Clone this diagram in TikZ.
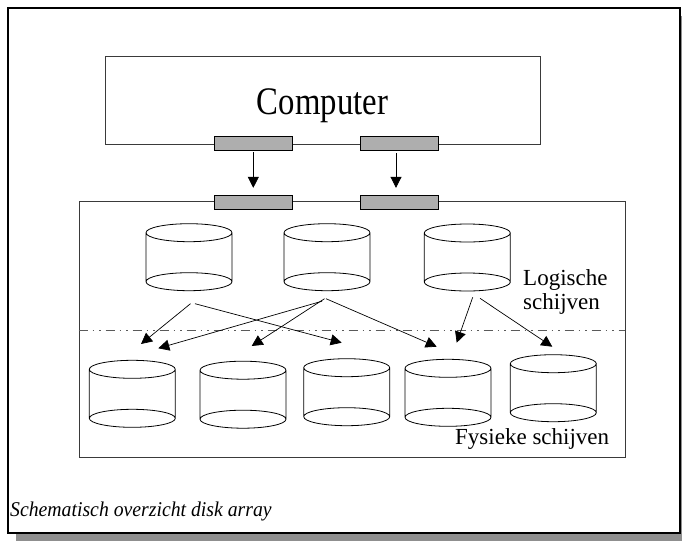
\documentclass[tikz,border=0pt]{standalone}
\usepackage{fontspec}
\usepackage{graphicx}
\setmainfont{Liberation Serif}
\usetikzlibrary{arrows.meta,calc}

\definecolor{shadowgray}{HTML}{8F8F8F}
\definecolor{portgray}{HTML}{AEAEAE}
\definecolor{boxline}{HTML}{3A3A3A}
\definecolor{dashgray}{HTML}{5A5A5A}

\tikzset{
  frameline/.style={draw=black, line width=1.3pt, fill=white},
  unitbox/.style={rectangle, draw=boxline, line width=0.9pt, inner sep=0pt},
  port/.style={rectangle, draw=black, fill=portgray, line width=0.9pt,
    minimum width=78pt, minimum height=14pt, inner sep=0pt},
  diskbody/.style={rectangle, minimum width=86pt, minimum height=49pt,
    inner sep=0pt, outer sep=0pt},
  diskline/.style={draw=black, line width=0.8pt},
  link/.style={draw=black, line width=0.7pt,
    -{Triangle[length=11pt,width=11pt]}},
  divider/.style={draw=dashgray, line width=0.8pt,
    dash pattern=on 9pt off 5pt on 1.5pt off 5pt on 1.5pt off 5pt},
  txt/.style={inner sep=0pt, font=\fontsize{23}{26}\selectfont}
}

% a disk: invisible body node plus side lines and two full ellipses
\newcommand\diskunit[2]{%
  \node[diskbody] (#1) at (#2) {};
  \draw[diskline] (#1.north west) -- (#1.south west)
    (#1.north east) -- (#1.south east)
    (#1.north) ellipse [x radius=43pt, y radius=9pt]
    (#1.south) ellipse [x radius=43pt, y radius=9pt];
}

\begin{document}
\begin{tikzpicture}[x=1pt,y=-1pt]
\useasboundingbox (0,0) rectangle (682,541);

% sheet with drop shadow
\fill[shadowgray] (16,16) rectangle (682,541);
\draw[frameline] (8,8) rectangle (680,533);

% computer and disk array enclosure
\node[unitbox, minimum width=435pt, minimum height=87.6pt] (comp) at (322.5,100.5) {};
\node[unitbox, minimum width=546pt, minimum height=255.5pt] (enc) at (352,329.2) {};
\node[txt, font=\fontsize{39}{44}\selectfont, anchor=base] (comptxt) at (322.5,114.5)
  {\scalebox{0.84}[1]{Computer}};

% interface ports
\node[port] (cp1) at (253,143.7) {};
\node[port] (cp2) at (399.7,143.7) {};
\node[port] (ap1) at (253,202.3) {};
\node[port] (ap2) at (399.7,202.3) {};

\draw[link] ($(cp1.south)+(0.3,1)$) -- ($(ap1.north)+(0.3,-7)$);
\draw[link] ($(cp2.south)+(-3.7,2)$) -- ($(ap2.north)+(-3.7,-7)$);

% logical disks
\diskunit{l1}{189,257.2}
\diskunit{l2}{327,257.2}
\diskunit{l3}{467.3,257.5}

% physical disks
\diskunit{p1}{132.3,393.8}
\diskunit{p2}{243,394.7}
\diskunit{p3}{346.7,392.2}
\diskunit{p4}{448,392.8}
\diskunit{p5}{553.3,388.2}

% separator between logical and physical level
\draw[divider] ($(enc.west)+(0,1.5)$) -- ($(enc.east)+(0,1.5)$);

% mapping of logical onto physical disks
\draw[link] ($(l1.south)+(1.5,22)$) -- ($(p1.north)+(8.7,-25.3)$);
\draw[link] ($(l1.south)+(6,22)$) -- ($(p3.north)+(-5,-25)$);
\draw[link] ($(l2.south)+(-5,19.5)$) -- ($(p1.north)+(26,-21)$);
\draw[link] ($(l2.south)+(-2.5,17)$) -- ($(p2.north)+(8.7,-24.2)$);
\draw[link] ($(l2.south)+(-1,17)$) -- ($(p4.north)+(-11.3,-21.6)$);
\draw[link] ($(l3.south)+(5.4,15.3)$) -- ($(p4.north)+(8.7,-25.6)$);
\draw[link] ($(l3.south)+(12.7,16.3)$) -- ($(p5.north)+(-1,-17)$);

% labels
\node[txt, anchor=base west] (lg1) at (523,285) {Logische};
\node[txt, anchor=base west] (lg2) at (523,309) {schijven};
\node[txt, anchor=base west] (fys) at (455,444) {Fysieke schijven};
\node[txt, font=\fontsize{21}{24}\selectfont\itshape, anchor=base west] (cap) at (10,516)
  {\scalebox{0.94}[1]{Schematisch overzicht disk array}};
\end{tikzpicture}
\end{document}
